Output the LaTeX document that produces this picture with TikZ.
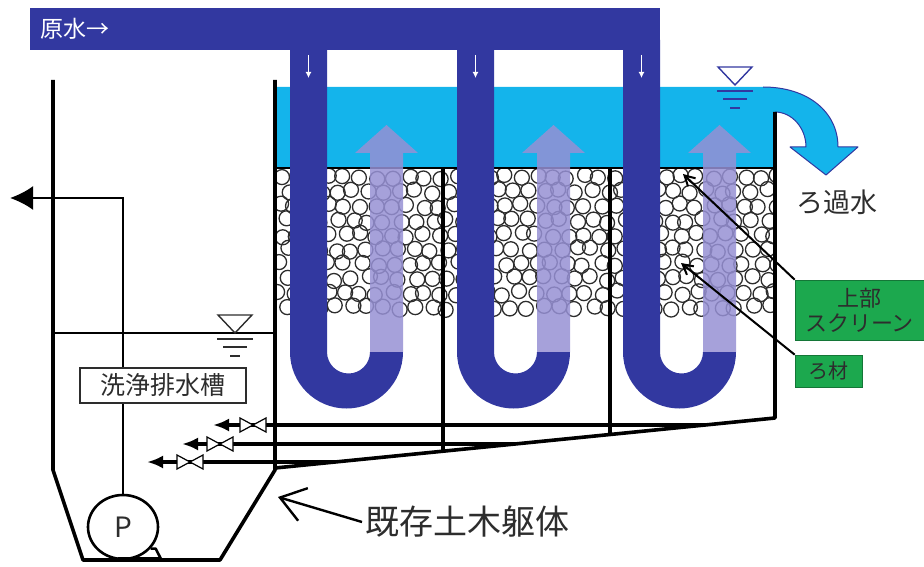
\documentclass[tikz,border=0pt]{standalone}
\usepackage{fontspec}
\setmainfont{Noto Sans CJK JP}
\usetikzlibrary{arrows.meta,shapes.geometric}

\definecolor{pipeblue}{RGB}{50,56,160}
\definecolor{waterblue}{RGB}{20,180,235}
\definecolor{flowpurple}{RGB}{150,144,212}
\definecolor{labelgreen}{RGB}{28,168,78}
\definecolor{inkgray}{RGB}{45,45,45}

\tikzset{
  wall/.style={line width=3.6pt, black},
  thinline/.style={line width=1.8pt, black},
  bead/.style={line width=1.3pt, inkgray},
  drain/.style={line width=3.2pt, black, -{Latex[length=16pt,width=13pt]}},
  valve/.style={fill=white, draw=black, line width=1.2pt},
  greenbox/.style={fill=labelgreen, draw=labelgreen!70!black, line width=0.6pt,
    text=inkgray, inner sep=0pt, align=center},
  leader/.style={line width=2pt, black, -{Straight Barb[length=10pt,width=11pt]}},
  levelmark/.pic={
    \draw[line width=1.4pt] (-17,-18) -- (17,-18) -- (0,0) -- cycle;
    \draw[line width=1.6pt] (-18,6) -- (18,6) (-12,14) -- (12,14) (-5,23) -- (5,23);
  },
}

\begin{document}
\begin{tikzpicture}[x=1pt, y=-1pt]
\useasboundingbox (0,0) rectangle (924,567);

% Water above the media, with the overflow arrow
\fill[waterblue] (277,87) -- (763,87) .. controls (808,87) and (838,112) .. (838,147)
  -- (858,147) -- (826,175) -- (790,147) -- (806,147)
  .. controls (806,128) and (792,112) .. (775,112) -- (775,168) -- (277,168) -- cycle;
\draw[pipeblue, line width=1pt, line join=round] (763,87) .. controls (808,87) and (838,112) .. (838,147)
  -- (858,147) -- (826,175) -- (790,147) -- (806,147)
  .. controls (806,128) and (792,112) .. (775,112);

% Filter media beads
\begin{scope}
\clip (277,170) rectangle (773,330);
\pgfmathsetseed{11}
\foreach \row in {0,...,9} {
  \foreach \col in {0,...,31} {
    \pgfmathsetmacro{\cx}{280+\col*16+mod(\row,2)*8+3*rand}
    \pgfmathsetmacro{\cy}{177+\row*14.5+2.5*rand}
    \draw[bead] (\cx,\cy) circle (7.5);
  }
}
\end{scope}

% Upper screen
\draw[line width=2.6pt] (277,168) -- (773,168);

% Upflow arrows, U pipes and flow marks
\foreach \x in {290,457,623} {
  \fill[flowpurple, fill opacity=0.85] (\x+80,352) -- (\x+80,153) -- (\x+65,153) -- (\x+96.5,125)
    -- (\x+128,153) -- (\x+113,153) -- (\x+113,352) -- cycle;
  \fill[pipeblue] (\x,40) -- (\x,352) arc[start angle=180, end angle=0, radius=56.5]
    -- (\x+80,352) arc[start angle=0, end angle=180, radius=21.5] -- (\x+37,40) -- cycle;
  \draw[white, line width=1.5pt, -{Latex[length=6pt,width=6pt]}] (\x+18.5,55) -- (\x+18.5,78);
}

% Raw water header
\fill[pipeblue] (30,8) rectangle (660,50);
\node[text=white, anchor=west, inner sep=0pt, font=\fontsize{23}{25}\selectfont] (rawwater) at (40,29) {原水→};

% Tank and filter walls
\draw[wall, line join=round] (53,80) -- (53,470) -- (83,560) -- (220,560) -- (275,470) -- (275,80);
\draw[wall, line join=round] (275,468) -- (775,418) -- (775,112);
\draw[wall] (443,168) -- (443,451.2);
\draw[wall] (610,168) -- (610,434.5);

% Drain lines with valves
\foreach \y/\vx/\tip/\sx in {425/253/213/705, 444/220/182/515, 462/190/147/335} {
  \draw[drain] (\sx,\y) -- (\tip,\y);
  \filldraw[valve] (\vx-13,\y-7) -- (\vx+13,\y+7) -- (\vx+13,\y-7) -- (\vx-13,\y+7) -- cycle;
}

% Water levels
\draw[thinline] (53,333) -- (275,333);
\pic[color=inkgray] at (235,333) {levelmark};
\pic[color=pipeblue] at (735,85) {levelmark};

% Pump and its discharge line
\node[draw, ellipse, line width=2.6pt, minimum width=70pt, minimum height=64pt, inner sep=0pt,
  text=inkgray, font=\fontsize{28}{30}\selectfont] (pump) at (123,527) {P};
\coordinate (outlet) at (10,198);
\draw[line width=2.4pt, -{Latex[length=23pt,width=24pt]}] (pump.north) |- (outlet);
\draw[line width=2.6pt, line join=round] (pump.-38) -- ++(5,0) -- (161,559);
\draw[line width=5pt] (118,559) -- (161,559);

\node[draw=inkgray, line width=1.5pt, fill=white, minimum width=166pt, minimum height=35pt,
  inner sep=0pt, text=inkgray, font=\fontsize{25}{27}\selectfont] (tanklbl) at (163,385.5) {洗浄排水槽};

% Labels
\node[text=inkgray, inner sep=0pt, font=\fontsize{27}{30}\selectfont] (filtrate) at (837,202) {ろ過水};
\node[greenbox, minimum width=129pt, minimum height=60pt, font=\fontsize{22}{25}\selectfont]
  (screenlbl) at (859.5,310) {上部\\スクリーン};
\node[greenbox, minimum width=67pt, minimum height=32pt, font=\fontsize{20}{22}\selectfont]
  (medialbl) at (828.5,371) {ろ材};
\draw[leader] (screenlbl.north west) -- (683,174);
\draw[leader] (medialbl.north west) -- (681,263);

\node[text=inkgray, anchor=west, font=\fontsize{34}{36}\selectfont] (body) at (362,522) {既存土木躯体};
\draw[line width=2.4pt, -{Straight Barb[length=24pt,width=34pt]}] (body.west) -- (278,497);

\end{tikzpicture}
\end{document}
